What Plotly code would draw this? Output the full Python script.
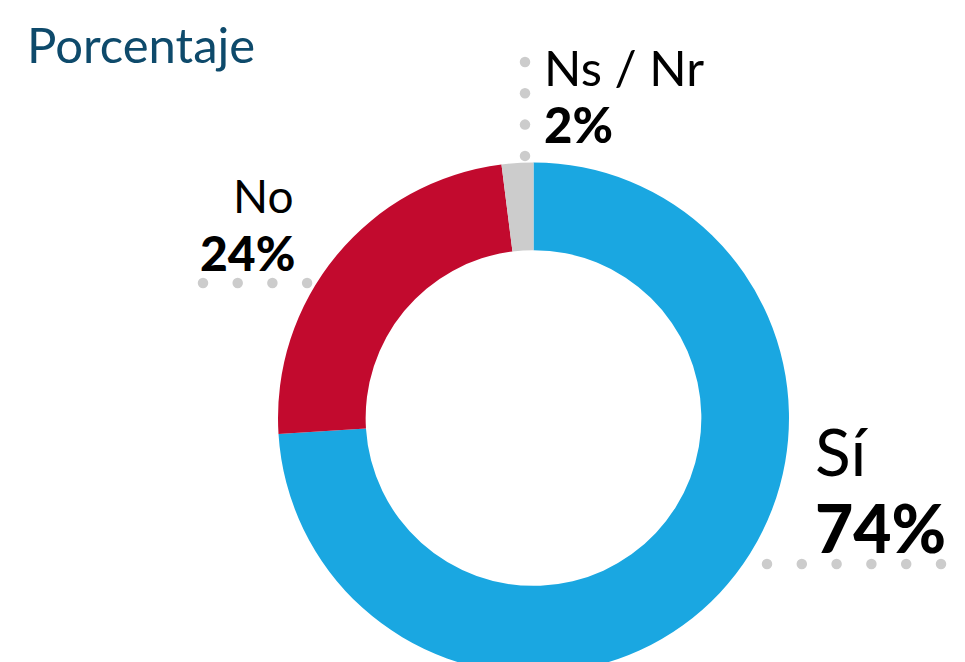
import plotly.graph_objects as go

# Survey answers and their shares (percent)
categories = ["Sí", "No", "Ns / Nr"]
values = [74, 24, 2]
colors = ["#1aa7e1", "#c20a2e", "#cccccc"]
title_text = "Porcentaje"

W, H = 965, 680  # canvas; the lower edge of the ring runs past the visible page


def px_x(x):
    return x / W


def px_y(y):
    return (H - y) / H


# ring geometry in pixels (centre and outer radius)
cx, cy, r = 533.5, 418.0, 255.5

fig = go.Figure(
    go.Pie(
        labels=categories,
        values=values,
        marker=dict(colors=colors, line=dict(width=0)),
        hole=0.657,
        sort=False,
        direction="clockwise",
        rotation=0,
        textinfo="none",
        hoverinfo="label+percent",
        domain=dict(x=[px_x(cx - r), px_x(cx + r)], y=[px_y(cy + r), px_y(cy - r)]),
    )
)

shapes = []


def dot_row(x0, y0, dx, dy, n, d=10.5):
    for i in range(n):
        x = x0 + i * dx
        y = y0 + i * dy
        shapes.append(dict(
            type="circle", xref="paper", yref="paper",
            x0=px_x(x - d / 2), x1=px_x(x + d / 2),
            y0=px_y(y + d / 2), y1=px_y(y - d / 2),
            fillcolor="#cccccc", line=dict(width=0), layer="above",
        ))


# dotted leaders beside each label
dot_row(767, 564, 34.8, 0, 6)
dot_row(203, 283, 34.7, 0, 4)
dot_row(525, 62, 0, 31.3, 4)

annotations = []


def label(text, x, y, size, anchor="left", bold=False, color="#000000"):
    annotations.append(dict(
        text=text,
        x=px_x(x), y=px_y(y), xref="paper", yref="paper",
        xanchor=anchor, yanchor="middle", showarrow=False,
        font=dict(family="Lato", size=size, color=color,
                  weight=900 if bold else 400),
    ))


label(title_text, 25, 44, 49, color="#0e4a6b")

share = {c: f"{v}%" for c, v in zip(categories, values)}
label(categories[2], 542, 67, 49)
label(share[categories[2]], 542, 124, 49, bold=True)
label(categories[1], 296, 195, 46, anchor="right")
label(share[categories[1]], 297, 252, 48, anchor="right", bold=True)
label(categories[0], 813, 450, 66)
label(share[categories[0]], 813, 527, 66, bold=True)

fig.update_layout(
    width=W, height=H,
    margin=dict(l=0, r=0, t=0, b=0),
    paper_bgcolor="white", plot_bgcolor="white",
    showlegend=False,
    shapes=shapes,
    annotations=annotations,
)

fig.write_html(
    "out.html",
    post_script="document.documentElement.style.overflow='hidden';"
                "document.body.style.overflow='hidden';document.body.style.margin='0';",
)
